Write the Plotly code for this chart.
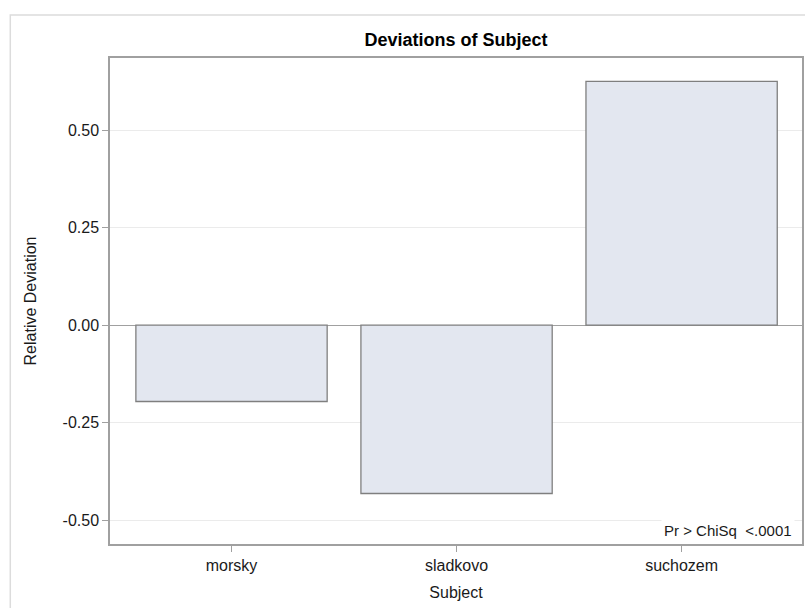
import plotly.graph_objects as go

# Relative deviation of each subject category
subjects = ["morsky", "sladkovo", "suchozem"]
deviations = [-0.196, -0.432, 0.625]
y_ticks = [-0.50, -0.25, 0.00, 0.25, 0.50]
y_tick_labels = ["-0.50", "-0.25", "0.00", "0.25", "0.50"]

FONT = "Liberation Sans, Arial, sans-serif"
TEXT = "#1a1a1a"

fig = go.Figure(
    go.Bar(
        x=list(range(len(subjects))),
        y=deviations,
        width=0.85,
        marker=dict(color="#e3e7f0", line=dict(color="#7f7f7f", width=1.3)),
        hoverinfo="skip",
    )
)

fig.update_layout(
    width=805,
    height=608,
    margin=dict(l=110, r=1, t=58, b=64),
    paper_bgcolor="white",
    plot_bgcolor="white",
    showlegend=False,
    title=dict(
        text="<b>Deviations of Subject</b>",
        x=0.5,
        xref="paper",
        xanchor="center",
        y=1 - 40 / 608,
        yanchor="middle",
        font=dict(family=FONT, size=18, color="#000000"),
    ),
    font=dict(family=FONT, size=16, color=TEXT),
)

fig.update_xaxes(
    range=[-0.54, 2.535],
    tickmode="array",
    tickvals=list(range(len(subjects))),
    ticktext=subjects,
    ticks="outside",
    ticklen=6,
    tickcolor="#a0a0a0",
    tickfont=dict(family=FONT, size=16, color=TEXT),
    showgrid=False,
    zeroline=False,
    showline=True,
    linecolor="#a0a0a0",
    linewidth=1.5,
    mirror=True,
    title=dict(text="Subject", font=dict(family=FONT, size=16, color=TEXT), standoff=14),
)

fig.update_yaxes(
    range=[-0.5615, 0.685],
    tickmode="array",
    tickvals=y_ticks,
    ticktext=y_tick_labels,
    ticks="outside",
    ticklen=6,
    tickcolor="#a0a0a0",
    tickfont=dict(family=FONT, size=16, color=TEXT),
    showgrid=True,
    gridcolor="#ebebeb",
    gridwidth=1,
    zeroline=True,
    zerolinecolor="#a0a0a0",
    zerolinewidth=1,
    showline=True,
    linecolor="#a0a0a0",
    linewidth=1.5,
    mirror=True,
    title=dict(text="Relative Deviation", font=dict(family=FONT, size=16, color=TEXT), standoff=22),
)

# Outer frame around the whole graph
fig.add_shape(
    type="rect",
    xref="paper",
    yref="paper",
    x0=(10 - 110) / 694,
    x1=1.2,
    y0=-0.3,
    y1=1 + (58 - 15) / 486,
    line=dict(color="#dcdcdc", width=1.5),
    fillcolor="rgba(0,0,0,0)",
    layer="below",
)

# Chi-square test result inset
fig.add_annotation(
    text="Pr > ChiSq  &lt;.0001",
    xref="paper",
    yref="paper",
    x=0.9895,
    y=0.005,
    xanchor="right",
    yanchor="bottom",
    showarrow=False,
    bgcolor="white",
    borderpad=2,
    font=dict(family=FONT, size=15, color=TEXT),
)

fig.write_html("out.html")
